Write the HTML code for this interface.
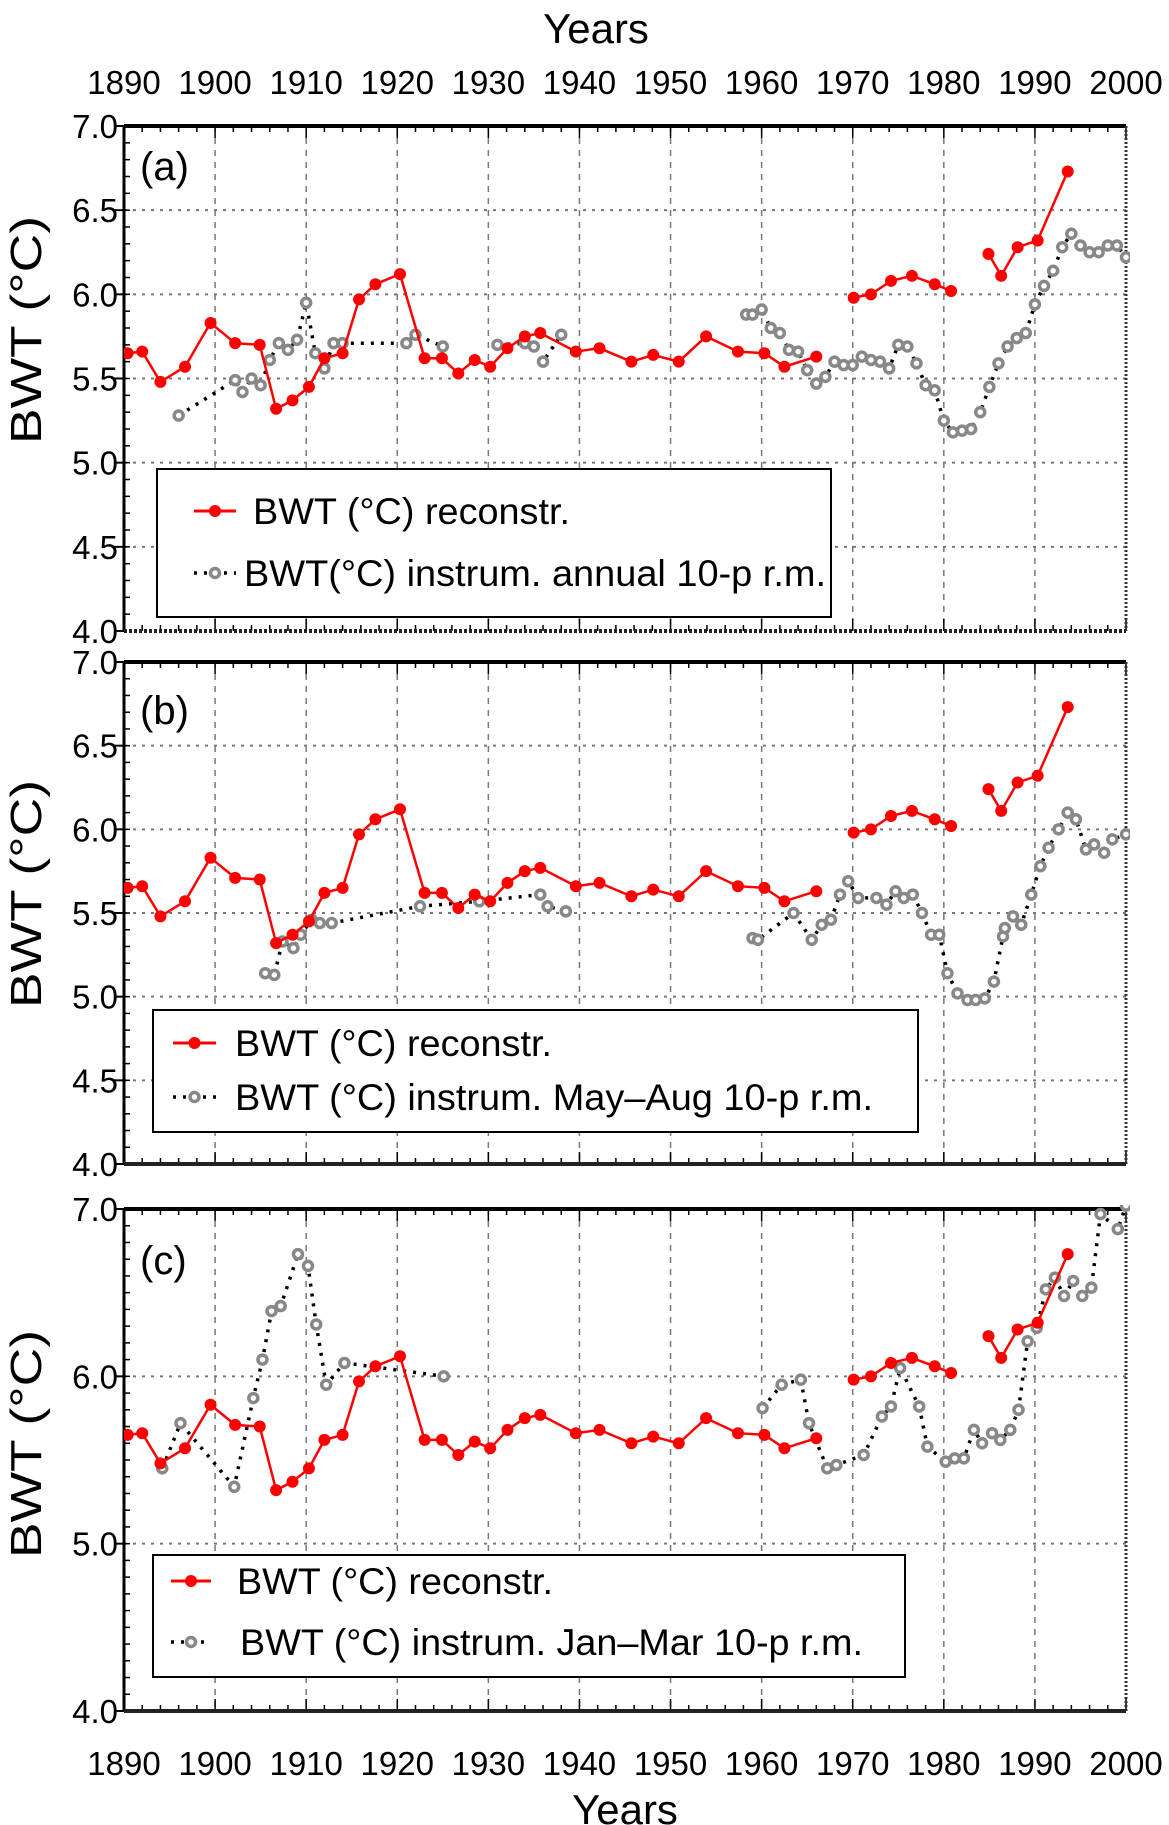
<!DOCTYPE html>
<html><head><meta charset="utf-8">
<style>
html,body{margin:0;padding:0;background:#fff;}
svg{display:block;font-family:"Liberation Sans",Arial,sans-serif;}
</style></head>
<body>
<svg id="chart" width="1169" height="1825" viewBox="0 0 1169 1825" xmlns="http://www.w3.org/2000/svg">
<text x="596" y="43" font-size="42" text-anchor="middle">Years</text>
<text x="625" y="1824" font-size="42" text-anchor="middle">Years</text>
</svg>
<script>
// ---- data ----
const xTicks = [1890,1900,1910,1920,1930,1940,1950,1960,1970,1980,1990,2000];
const reconYears = [1890.4,1892,1894,1896.7,1899.5,1902.2,1904.9,1906.7,1908.5,1910.3,1912,1914,1915.8,1917.6,1920.3,1923,1924.9,1926.7,1928.5,1930.2,1932.1,1934,1935.7,1939.6,1942.2,1945.7,1948.1,1950.9,1953.9,1957.4,1960.3,1962.5,1966,null,1970.1,1972,1974.2,1976.5,1979,1980.8,null,1984.9,1986.3,1988.1,1990.3,1993.6];
const reconValues = [5.65,5.66,5.48,5.57,5.83,5.71,5.70,5.32,5.37,5.45,5.62,5.65,5.97,6.06,6.12,5.62,5.62,5.53,5.61,5.57,5.68,5.75,5.77,5.66,5.68,5.60,5.64,5.60,5.75,5.66,5.65,5.57,5.63,null,5.98,6.00,6.08,6.11,6.06,6.02,null,6.24,6.11,6.28,6.32,6.73];

const annYears = [1896,1902.2,1903,1904,1905,1906,1907,1908,1909,1910,1911,1912,1913,1914,1921,1922,1925,null,1931,1934,1935,1936,1938,null,1958.3,1959,1960,1961,1962,1963,1964,1965,1966,1967,1968,1969,1970,1971,1972,1973,1974,1975,1976,1977,1978,1979,1980,1981,1982,1983,1984,1985,1986,1987,1988,1989,1990,1991,1992,1993,1994,1995,1996,1997,1998,1999,2000];
const annValues = [5.28,5.49,5.42,5.50,5.46,5.61,5.71,5.67,5.73,5.95,5.65,5.56,5.71,5.71,5.71,5.76,5.69,null,5.70,5.71,5.69,5.60,5.76,null,5.88,5.88,5.91,5.80,5.77,5.67,5.66,5.55,5.47,5.51,5.60,5.58,5.58,5.63,5.61,5.60,5.56,5.70,5.69,5.59,5.46,5.43,5.25,5.18,5.19,5.20,5.30,5.45,5.59,5.69,5.74,5.77,5.94,6.05,6.14,6.28,6.36,6.29,6.25,6.25,6.29,6.29,6.22];

const mayYears = [1905.5,1906.5,1907.4,1908.6,1909.4,1910.6,1911.5,1912.8,1922.5,1929,1935.7,1936.5,1938.5,null,1959,1959.6,1963.5,1965.5,1966.6,1967.6,1968.6,1969.5,1970.6,1972.6,1973.7,1974.7,1975.6,1976.6,1977.6,1978.6,1979.5,1980.4,1981.5,1982.6,1983.5,1984.5,1985.5,1986.5,1986.7,1987.6,1988.5,1989.6,1990.6,1991.5,1992.6,1993.6,1994.5,1995.6,1996.5,1997.6,1998.5,2000];
const mayValues = [5.14,5.13,5.33,5.29,5.37,5.46,5.44,5.44,5.54,5.57,5.61,5.54,5.51,null,5.35,5.34,5.50,5.34,5.43,5.46,5.61,5.69,5.59,5.59,5.55,5.63,5.59,5.61,5.50,5.37,5.37,5.14,5.02,4.98,4.98,4.99,5.09,5.36,5.41,5.48,5.43,5.61,5.78,5.89,6.00,6.10,6.06,5.88,5.91,5.86,5.94,5.97];

const janYears = [1894.2,1896.2,1902.1,1904.2,1905.2,1906.2,1907.2,1909.1,1910.2,1911.1,1912.2,1914.2,1925.1,null,1960.1,1962.2,1964.3,1965.2,1967.2,1968.2,1971.2,1973.2,1974.2,1975.2,1977.3,1978.2,1980.2,1981.2,1982.2,1983.3,1984.2,1985.3,1986.2,1987.3,1988.2,1989.2,1990.2,1991.2,1992.2,1993.2,1994.2,1995.2,1996.2,1997.2,1999.1,2000];
const janValues = [5.45,5.72,5.34,5.87,6.10,6.39,6.42,6.73,6.66,6.31,5.95,6.08,6.00,null,5.81,5.95,5.98,5.72,5.45,5.47,5.53,5.76,5.82,6.05,5.82,5.58,5.49,5.51,5.51,5.68,5.60,5.66,5.62,5.68,5.80,6.21,6.29,6.52,6.59,6.48,6.57,6.48,6.53,6.97,6.88,7.02];

// ---- drawing ----
const svg = document.getElementById('chart');
const NS = 'http://www.w3.org/2000/svg';
function mk(tag, attrs, parent){
  const e = document.createElementNS(NS, tag);
  for (const k in attrs) e.setAttribute(k, attrs[k]);
  (parent||svg).appendChild(e);
  return e;
}
const X0 = 124, X1 = 1126;
function xScale(yr){ return X0 + (yr-1890)/(2000-1890)*(X1-X0); }

const panels = [
  {id:'a', top:126, bottom:631, label:'(a)', ticks:[4.0,4.5,5.0,5.5,6.0,6.5,7.0], grid:[4.5,5.0,5.5,6.0,6.5],
   instYears:annYears, instValues:annValues, legendText2:'BWT(°C) instrum. annual 10-p r.m.',
   lb:{x:157,y:469,w:674,h:148}, r1:511, r2:573, tx1:253, tx2:244, w1:317, w2:582, sx:194, sx2:236, lblY:180, yc:330},
  {id:'b', top:662, bottom:1164, label:'(b)', ticks:[4.0,4.5,5.0,5.5,6.0,6.5,7.0], grid:[4.5,5.0,5.5,6.0,6.5],
   instYears:mayYears, instValues:mayValues, legendText2:'BWT (°C) instrum. May–Aug 10-p r.m.',
   lb:{x:153,y:1010,w:765,h:122}, r1:1043, r2:1097, tx1:235, tx2:235, w1:317, w2:638, sx:173, sx2:216, lblY:724, yc:894},
  {id:'c', top:1209, bottom:1711, label:'(c)', ticks:[4.0,5.0,6.0,7.0], grid:[5.0,6.0],
   instYears:janYears, instValues:janValues, legendText2:'BWT (°C) instrum. Jan–Mar 10-p r.m.',
   lb:{x:153,y:1555,w:752,h:122}, r1:1581, r2:1642, tx1:237, tx2:240, w1:316, w2:623, sx:171, sx2:211, lblY:1274, yc:1444}
];

// year labels top & bottom
xTicks.forEach(t=>{
  const a = mk('text',{x:xScale(t), y:94, 'font-size':33, 'text-anchor':'middle'});
  
  
  a.textContent = t;
  const b = mk('text',{x:xScale(t), y:1775, 'font-size':33, 'text-anchor':'middle'});
  
  
  b.textContent = t;
});

function linePath(years, values, yS){
  let d = '', pen = false;
  for (let i=0;i<years.length;i++){
    if (years[i]===null || values[i]===null){ pen=false; continue; }
    const x = xScale(Math.min(years[i],2000)), y = yS(Math.min(values[i],7.02));
    d += (pen?'L':'M') + x.toFixed(1) + ' ' + y.toFixed(1) + ' ';
    pen = true;
  }
  return d;
}

panels.forEach(p=>{
  const yS = v => p.bottom - (v-4)/3*(p.bottom-p.top);
  const g = mk('g',{});
  
  
  // grid
  xTicks.slice(1,-1).forEach(t=>{
    const l = mk('line',{x1:xScale(t),x2:xScale(t),y1:p.top,y2:p.bottom,stroke:'#777','stroke-width':1.5,'stroke-dasharray':'6,6'},g);
    
    
  });
  p.grid.forEach(v=>{
    const l = mk('line',{x1:X0,x2:X1,y1:yS(v),y2:yS(v),stroke:'#777','stroke-width':2,'stroke-dasharray':'3,6'},g);
    
    
  });
  // y ticks + labels
  p.ticks.forEach(v=>{
    mk('line',{x1:X0-10,x2:X0,y1:yS(v),y2:yS(v),stroke:'#000','stroke-width':2},g);
    const t = mk('text',{x:X0-6,y:yS(v)+12,'font-size':33,'text-anchor':'end'},g);
    
    
    t.textContent = v.toFixed(1);
  });
  for (let v=4.1; v<7; v+=0.1){
    mk('line',{x1:X0,x2:X0+6,y1:yS(v),y2:yS(v),stroke:'#000','stroke-width':1.5},g);
  }
  // x ticks top/bottom
  for (let yr=1890; yr<=2000; yr+=2){
    const major = yr%10===0;
    mk('line',{x1:xScale(yr),x2:xScale(yr),y1:p.top,y2:p.top+(major?12:6),stroke:'#000','stroke-width':1.5},g);
    mk('line',{x1:xScale(yr),x2:xScale(yr),y1:p.bottom,y2:p.bottom-(major?12:6),stroke:'#000','stroke-width':1.5},g);
  }
  // frame
  mk('line',{x1:X0,x2:X1,y1:p.top,y2:p.top,stroke:'#000','stroke-width':4},g);
  mk('line',{x1:X0,x2:X0,y1:p.top,y2:p.bottom,stroke:'#000','stroke-width':3},g);
  mk('line',{x1:X1,x2:X1,y1:p.top,y2:p.bottom,stroke:'#333','stroke-width':3,'stroke-dasharray':'2,2'},g);
  mk('line',{x1:X0,x2:X1,y1:p.bottom,y2:p.bottom,stroke:'#222','stroke-width':4,'stroke-dasharray': p.id==='a'?'3,2':'none'},g);
  // y title
  const yt = mk('text',{x:0,y:0,'font-size':44,'text-anchor':'middle',textLength:228,lengthAdjust:'spacingAndGlyphs',transform:`translate(41,${p.yc}) rotate(-90)`},g);
  
  
  yt.textContent = 'BWT (°C)';
  // panel label
  const pl = mk('text',{x:140,y:p.lblY,'font-size':40},g);
  
  
  pl.textContent = p.label;
  // clip
  const cp = mk('clipPath',{id:'clip'+p.id},g);
  mk('rect',{x:X0,y:p.top-4,width:X1-X0+4,height:p.bottom-p.top+8},cp);
  const dg = mk('g',{'clip-path':`url(#clip${p.id})`},g);
  // instrumental series
  const ip = mk('path',{d:linePath(p.instYears,p.instValues,yS),fill:'none',stroke:'#000','stroke-width':3.5,'stroke-dasharray':'3,7'},dg);
  
  
  p.instYears.forEach((yr,i)=>{
    if (yr===null || p.instValues[i]===null) return;
    const c = mk('circle',{cx:xScale(Math.min(yr,2000)),cy:yS(p.instValues[i]),r:4.5,fill:'#fff',stroke:'#888','stroke-width':3.5},dg);
    
    
  });
  // reconstructed series
  const rp = mk('path',{d:linePath(reconYears,reconValues,yS),fill:'none',stroke:'#f00','stroke-width':2.5},dg);
  
  
  reconYears.forEach((yr,i)=>{
    if (yr===null) return;
    const c = mk('circle',{cx:xScale(yr),cy:yS(reconValues[i]),r:6,fill:'#f00'},dg);
    
    
  });
  // legend
  const lg = mk('g',{},g);
  
  
  mk('rect',{x:p.lb.x,y:p.lb.y,width:p.lb.w,height:p.lb.h,fill:'#fff',stroke:'#000','stroke-width':2},lg);
  mk('line',{x1:p.sx,x2:p.sx2,y1:p.r1,y2:p.r1,stroke:'#f00','stroke-width':3},lg);
  mk('circle',{cx:(p.sx+p.sx2)/2,cy:p.r1,r:6,fill:'#f00'},lg);
  const t1 = mk('text',{x:p.tx1,y:p.r1+13,'font-size':37,textLength:p.w1,lengthAdjust:'spacingAndGlyphs'},lg);
  
  
  t1.textContent = 'BWT (°C) reconstr.';
  mk('line',{x1:p.sx,x2:p.sx2,y1:p.r2,y2:p.r2,stroke:'#000','stroke-width':3.5,'stroke-dasharray':'3,7'},lg);
  mk('circle',{cx:(p.sx+p.sx2)/2,cy:p.r2,r:4.5,fill:'#fff',stroke:'#888','stroke-width':3.5},lg);
  const t2 = mk('text',{x:p.tx2,y:p.r2+13,'font-size':37,textLength:p.w2,lengthAdjust:'spacingAndGlyphs'},lg);
  
  
  t2.textContent = p.legendText2;
});
</script>
</body></html>
